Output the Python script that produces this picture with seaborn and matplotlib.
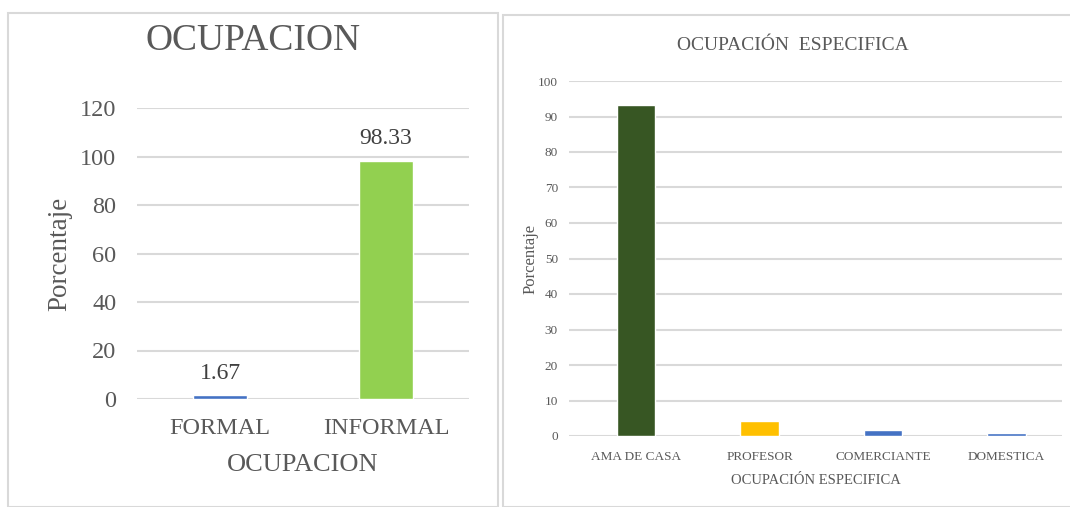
import matplotlib
matplotlib.use("Agg")
import matplotlib.pyplot as plt
import seaborn as sns
import pandas as pd
from matplotlib.patches import Rectangle

# ---- data ----
ocup_cats = ["FORMAL", "INFORMAL"]
ocup_vals = [1.67, 98.33]
ocup_colors = ["#4472C4", "#92D050"]

esp_cats = ["AMA DE CASA", "PROFESOR", "COMERCIANTE", "DOMESTICA"]
esp_vals = [93.33, 4.17, 1.67, 0.83]
esp_colors = ["#375623", "#FFC000", "#4472C4", "#4472C4"]

left_ticks = [0, 20, 40, 60, 80, 100, 120]
right_ticks = [0, 10, 20, 30, 40, 50, 60, 70, 80, 90, 100]

sns.set_theme(style="white")
plt.rcParams['font.family'] = ['Liberation Serif', 'DejaVu Serif']
TXT = "#595959"
GRID = "#D9D9D9"

W, H = 1070, 507
fig = plt.figure(figsize=(W / 100, H / 100), dpi=100)

def ax_rect(x0, x1, y0, y1):
    return [x0 / W, 1 - y1 / H, (x1 - x0) / W, (y1 - y0) / H]

# panel borders
fig.patches.append(Rectangle((8 / W, 0), (498 - 8) / W, 1 - 13 / H, transform=fig.transFigure,
                             fill=False, edgecolor=GRID, lw=1.5))
fig.patches.append(Rectangle((503 / W, 0), (1075 - 503) / W, 1 - 15 / H, transform=fig.transFigure,
                             fill=False, edgecolor=GRID, lw=1.5))

# ---- left chart ----
ax1 = fig.add_axes(ax_rect(137, 469, 108, 399))
df1 = pd.DataFrame({"cat": ocup_cats, "val": ocup_vals})
sns.barplot(data=df1, x="cat", y="val", hue="cat", palette=ocup_colors, width=0.32,
            legend=False, ax=ax1, saturation=1)
ax1.set_ylim(0, 120)
ax1.set_xlim(-0.5, 1.5)
ax1.set_yticks(left_ticks)
ax1.yaxis.grid(True, color=GRID, lw=1.5)
ax1.set_axisbelow(True)
for s in ax1.spines.values():
    s.set_visible(False)
ax1.tick_params(axis='y', length=0, pad=15, labelsize=17.5, labelcolor=TXT)
ax1.tick_params(axis='x', length=0, pad=14, labelsize=17.5, labelcolor=TXT)
ax1.set_xlabel("OCUPACION", fontsize=19, color=TXT)
ax1.set_ylabel("Porcentaje", fontsize=19.5, color=TXT)
ax1.xaxis.set_label_coords(0.5, -(465 - 399) / 291, transform=ax1.transAxes)
ax1.xaxis.label.set_va("center")
ax1.yaxis.set_label_coords((60 - 137) / 332, 0.5, transform=ax1.transAxes)
ax1.yaxis.label.set_va("center")
for c in ax1.containers:
    ax1.bar_label(c, fmt="%.2f", padding=8, fontsize=17, color="#404040")
fig.text(253 / W, 1 - 41 / H, "OCUPACION", ha="center", va="center", fontsize=27, color=TXT)

# ---- right chart ----
ax2 = fig.add_axes(ax_rect(569, 1062, 81, 436))
df2 = pd.DataFrame({"cat": esp_cats, "val": esp_vals})
sns.barplot(data=df2, x="cat", y="val", hue="cat", palette=esp_colors, width=0.31,
            legend=False, ax=ax2, saturation=1)
ax2.set_ylim(0, 100)
ax2.set_xlim(-(636 - 569) / 123.5, (1062 - 636) / 123.5)
ax2.set_yticks(right_ticks)
ax2.yaxis.grid(True, color=GRID, lw=1.5)
ax2.set_axisbelow(True)
for s in ax2.spines.values():
    s.set_visible(False)
ax2.tick_params(axis='y', length=0, pad=8, labelsize=9.5, labelcolor=TXT)
ax2.tick_params(axis='x', length=0, pad=11, labelsize=9.5, labelcolor=TXT)
ax2.set_xlabel("OCUPACIÓN ESPECIFICA", fontsize=10.5, color=TXT)
ax2.set_ylabel("Porcentaje", fontsize=12, color=TXT)
ax2.xaxis.set_label_coords(0.5, -(481 - 436) / 355, transform=ax2.transAxes)
ax2.xaxis.label.set_va("center")
ax2.yaxis.set_label_coords((531 - 569) / 493, 0.5, transform=ax2.transAxes)
ax2.yaxis.label.set_va("center")
fig.text(793 / W, 1 - 45 / H, "OCUPACIÓN  ESPECIFICA", ha="center", va="center", fontsize=14, color=TXT)

fig.savefig("out.png", dpi=100)
